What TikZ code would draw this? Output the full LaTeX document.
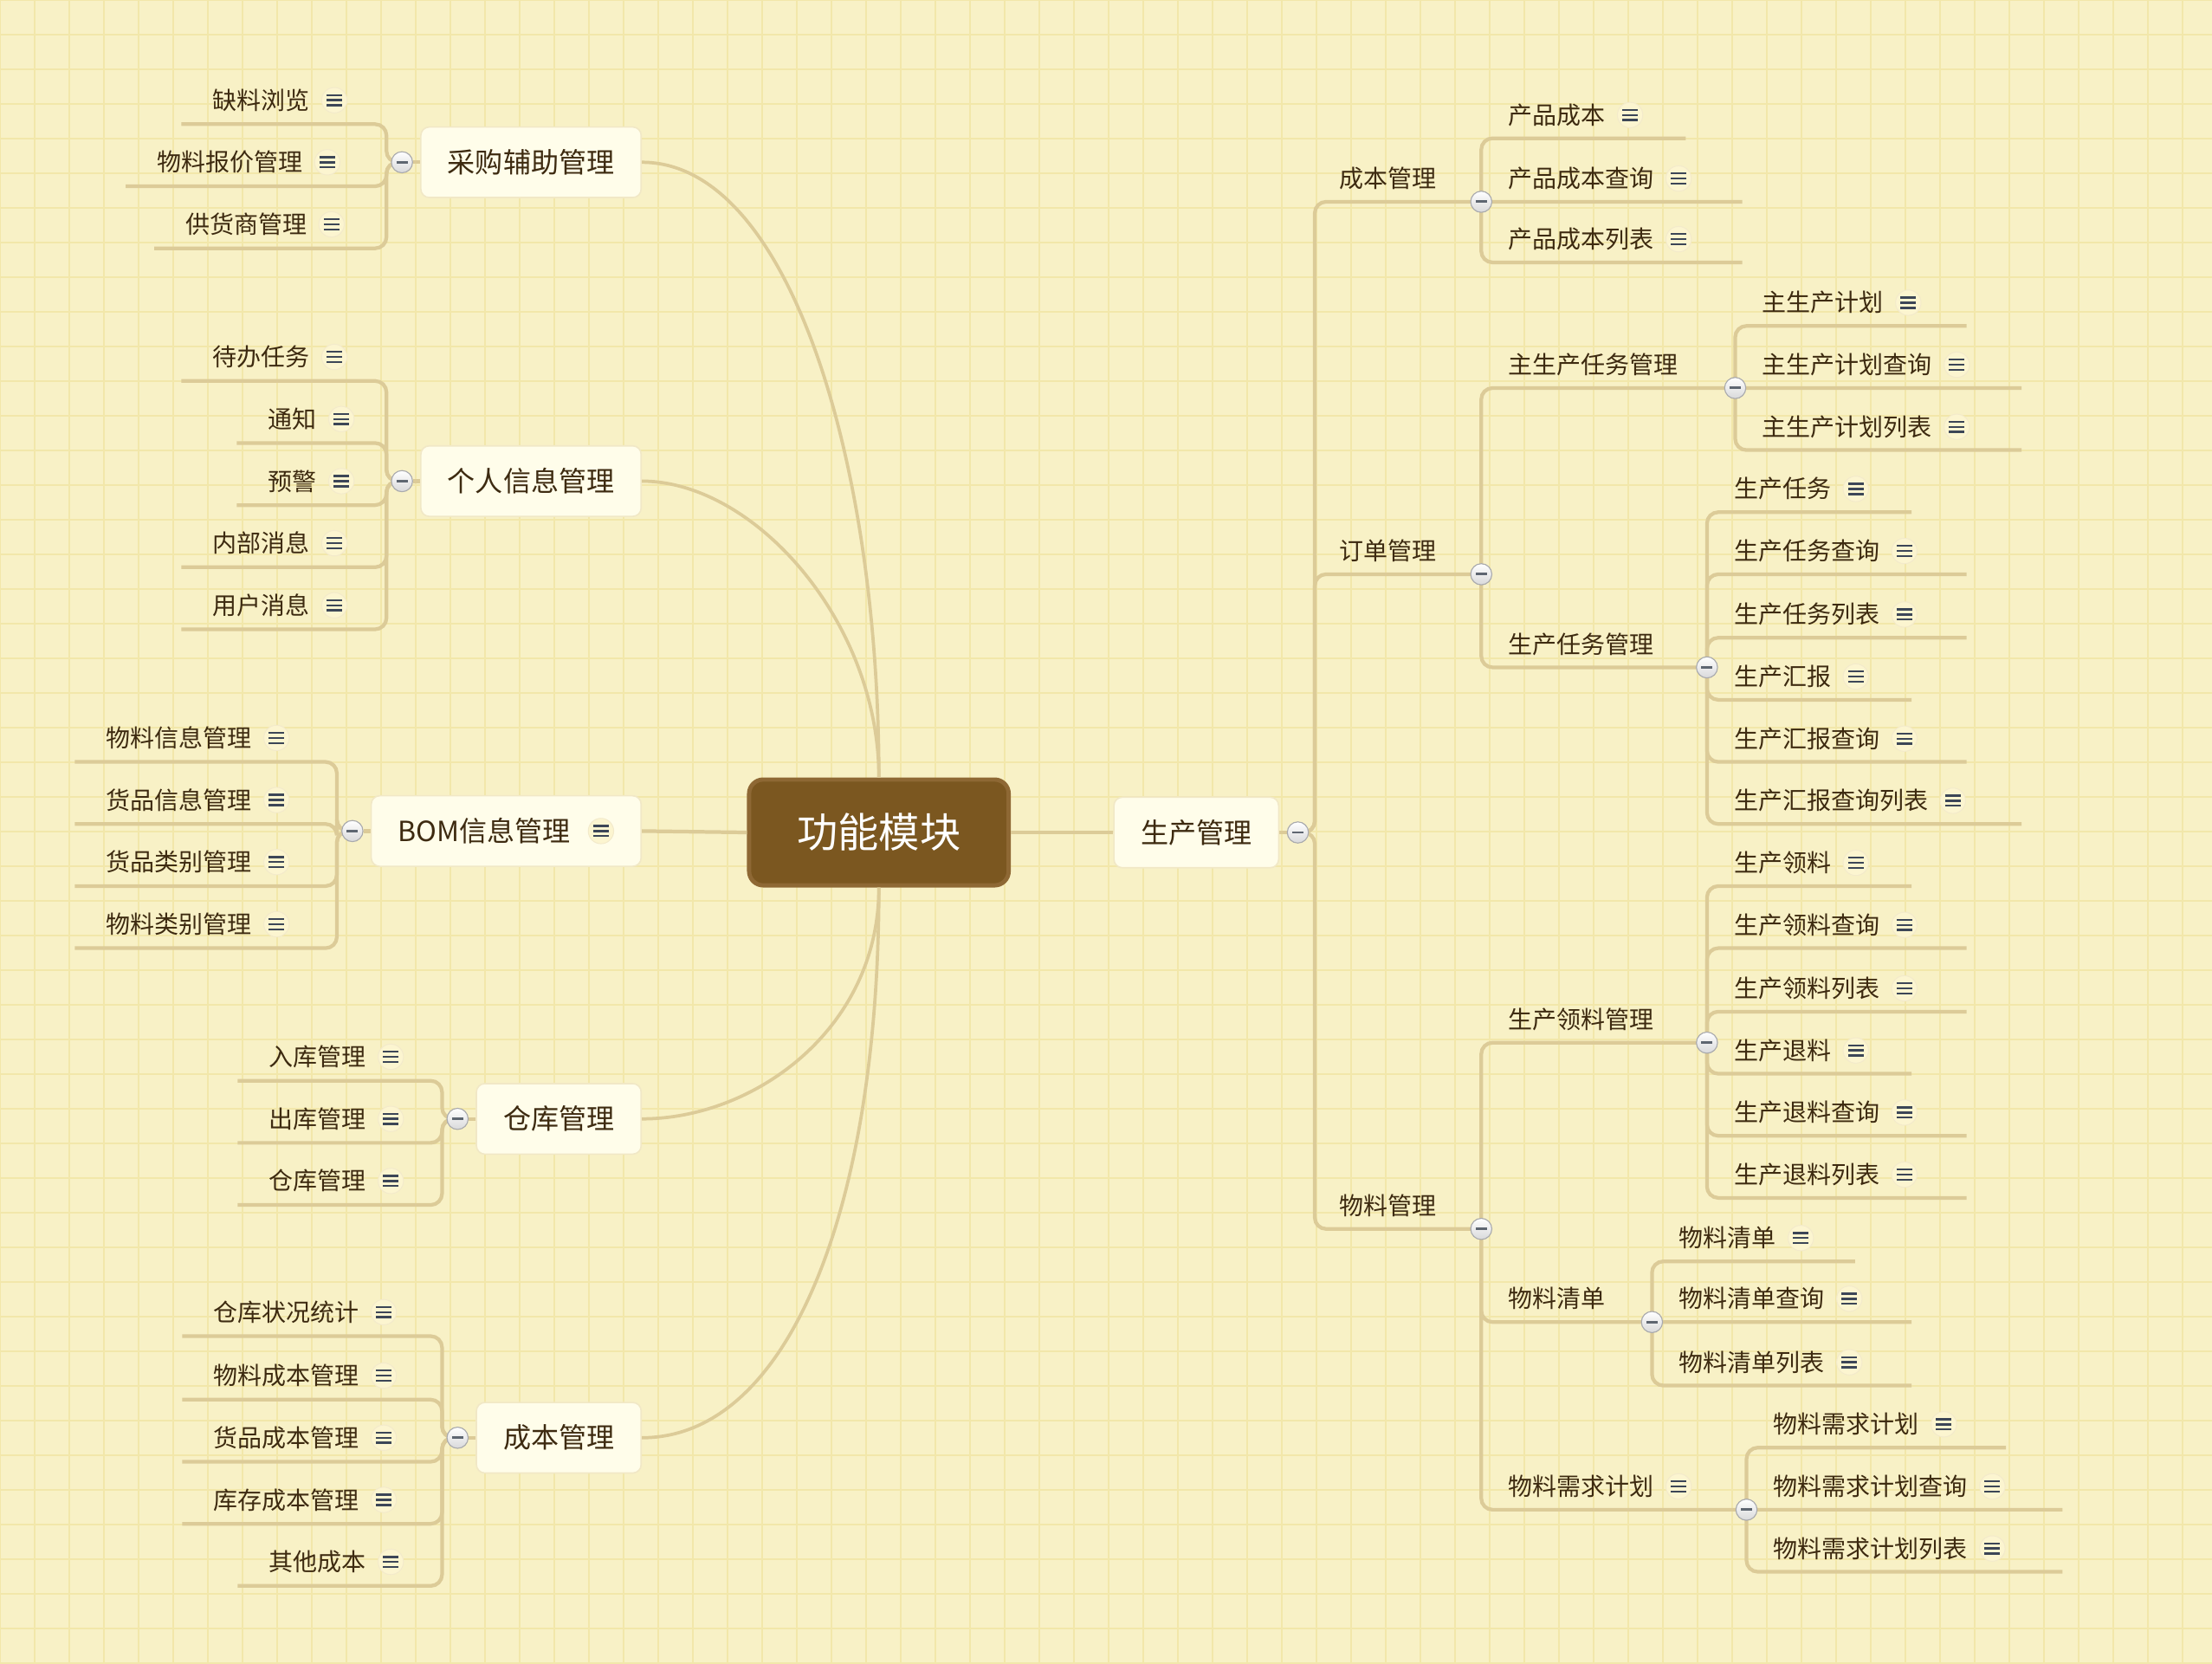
\documentclass[tikz,border=0pt]{standalone}
\usepackage{fontspec}
\setmainfont{Noto Sans CJK SC}
\usetikzlibrary{positioning,calc}

\definecolor{paper}{HTML}{F8F1C6}
\definecolor{gridline}{HTML}{F2E7AA}
\definecolor{linkcol}{HTML}{DCCB98}
\definecolor{ink}{HTML}{3D2A10}
\definecolor{rootfill}{HTML}{7B5720}
\definecolor{rootedge}{HTML}{8E6834}
\definecolor{topicfill}{HTML}{FFFDEA}
\definecolor{topicedge}{HTML}{F1E8C6}
\definecolor{notefill}{HTML}{FCF5D0}
\definecolor{noteedge}{HTML}{F3EACB}
\definecolor{notebar}{HTML}{3C4657}
\definecolor{foldedge}{HTML}{A9AAAD}
\definecolor{foldbar}{HTML}{5E6671}

\pgfdeclarelayer{bg}
\pgfdeclarelayer{links}
\pgfsetlayers{bg,links,main}

\begin{document}
\begin{tikzpicture}[
  x=1pt, y=-1pt,
  root/.style={draw=rootedge, line width=3, fill=rootfill, rounded corners=10,
    minimum width=184, minimum height=75, text=white,
    font=\fontsize{29}{34}\selectfont},
  topic/.style={draw=topicedge, line width=1, fill=topicfill, rounded corners=6,
    minimum height=50, inner xsep=19, text=ink,
    font=\fontsize{19.7}{23}\selectfont},
  leaf/.style={inner sep=0, text=ink, font=\fontsize{17.2}{20}\selectfont},
  note/.style={circle, draw=noteedge, line width=0.6, fill=notefill,
    minimum size=18, inner sep=0,
    path picture={
      \foreach \d in {-3.6,0,3.6}
        \draw[notebar, line width=1.5] ([xshift=-5.5pt, yshift=\d pt]path picture bounding box.center) -- ++(11,0);
    }},
  fold/.style={circle, draw=foldedge, line width=0.7, top color=white,
    bottom color=foldedge!45, minimum size=15, inner sep=0,
    path picture={
      \draw[foldbar, line width=1.8] ([xshift=-4pt]path picture bounding box.center) -- ++(8,0);
    }},
  link/.style={draw=linkcol, line width=2.6, rounded corners=8},
  curve/.style={draw=linkcol, line width=2.3}
]
\useasboundingbox (0,0) rectangle (1568,1179);

% paper
\begin{pgfonlayer}{bg}
  \fill[paper] (0,0) rectangle (1568,1179);
  \draw[gridline, line width=1.2, step=24.56pt] (0,1179) grid (1568,0);
\end{pgfonlayer}

% centre and first level
\node[root] (root) at (623,590) {功能模块};
\node[topic] (sc) at (848,590) {生产管理};
\node[fold] (f-sc) at (920,590) {};

\node[topic, anchor=east] (cg) at (455,115) {采购辅助管理};
\node[fold, left=5 of cg] (f-cg) {};
\node[topic, anchor=east] (gr) at (455,341) {个人信息管理};
\node[fold, left=5 of gr] (f-gr) {};
\node[topic, anchor=east] (bom) at (455,589) {BOM信息管理\kern31pt};
\node[note] (n-bom) at ($(bom.east)+(-29,0)$) {};
\node[fold, left=5 of bom] (f-bom) {};
\node[topic, anchor=east] (ck) at (455,793) {仓库管理};
\node[fold, left=5 of ck] (f-ck) {};
\node[topic, anchor=east] (cbl) at (455,1019) {成本管理};
\node[fold, left=5 of cbl] (f-cbl) {};

\draw[curve] (root.north) .. controls +(0,-222) and +(105,0) .. (cg.east);
\draw[curve] (root.north) .. controls +(0,-110) and +(80,0) .. (gr.east);
\draw[link] (root.west) -- (bom.east);
\draw[curve] (root.south) .. controls +(0,100) and +(80,0) .. (ck.east);
\draw[curve] (root.south) .. controls +(0,225) and +(105,0) .. (cbl.east);
\draw[link] (root.east) -- (sc.west);

% right side, second and third level
\node[leaf, anchor=base west] (cb) at (949,133) {成本管理};
\node[fold] (f-cb) at (1050,143) {};
\node[leaf, anchor=base west] (dd) at (949,397) {订单管理};
\node[fold] (f-dd) at (1050,407) {};
\node[leaf, anchor=base west] (wl) at (949,861) {物料管理};
\node[fold] (f-wl) at (1050,871) {};

\node[leaf, anchor=base west] (zs) at (1069,265) {主生产任务管理};
\node[fold] (f-zs) at (1230,275) {};
\node[leaf, anchor=base west] (rw) at (1069,463) {生产任务管理};
\node[fold] (f-rw) at (1210,473) {};
\node[leaf, anchor=base west] (ll) at (1069,729) {生产领料管理};
\node[fold] (f-ll) at (1210,739) {};
\node[leaf, anchor=base west] (qd) at (1069,927) {物料清单};
\node[fold] (f-qd) at (1171,937) {};
\node[leaf, anchor=base west] (xq) at (1069,1060) {物料需求计划};
\node[note, right=8 of xq] (n-xq) {};
\node[fold] (f-xq) at (1238,1070) {};

\begin{pgfonlayer}{links}
  \draw[link] (sc.east) -- (f-sc);
  \draw[link] (f-sc.center) -- ++(12,0) |- (f-cb.center);
  \draw[link] (f-sc.center) -- ++(12,0) |- (f-dd.center);
  \draw[link] (f-sc.center) -- ++(12,0) |- (f-wl.center);
  \draw[link] (f-dd.center) |- (f-zs.center);
  \draw[link] (f-dd.center) |- (f-rw.center);
  \draw[link] (f-wl.center) |- (f-ll.center);
  \draw[link] (f-wl.center) |- (f-qd.center);
  \draw[link] (f-wl.center) |- (f-xq.center);
  \draw[link] (cg.west) -- (f-cg);
  \draw[link] (gr.west) -- (f-gr);
  \draw[link] (bom.west) -- (f-bom);
  \draw[link] (ck.west) -- (f-ck);
  \draw[link] (cbl.west) -- (f-cbl);
\end{pgfonlayer}

% right leaves
\foreach \yy/\lbl/\xe [count=\i] in {98/产品成本/1195, 143/产品成本查询/1235, 186/产品成本列表/1235} {
  \node[leaf, anchor=base west] (cb-\i) at (1069,\yy-10) {\lbl};
  \node[note, right=8 of cb-\i] (cb-n\i) {};
  \coordinate (cb-e\i) at (\xe,\yy);
  \begin{pgfonlayer}{links}\draw[link] (f-cb.center) |- (cb-e\i);\end{pgfonlayer}
}
\foreach \yy/\lbl/\xe [count=\i] in {231/主生产计划/1394, 275/主生产计划查询/1433, 319/主生产计划列表/1433} {
  \node[leaf, anchor=base west] (zs-\i) at (1249,\yy-10) {\lbl};
  \node[note, right=8 of zs-\i] (zs-n\i) {};
  \coordinate (zs-e\i) at (\xe,\yy);
  \begin{pgfonlayer}{links}\draw[link] (f-zs.center) |- (zs-e\i);\end{pgfonlayer}
}
\foreach \yy/\lbl/\xe [count=\i] in {363/生产任务/1355, 407/生产任务查询/1394, 452/生产任务列表/1394,
    496/生产汇报/1355, 540/生产汇报查询/1394, 584/生产汇报查询列表/1433} {
  \node[leaf, anchor=base west] (rw-\i) at (1229,\yy-10) {\lbl};
  \node[note, right=8 of rw-\i] (rw-n\i) {};
  \coordinate (rw-e\i) at (\xe,\yy);
  \begin{pgfonlayer}{links}\draw[link] (f-rw.center) |- (rw-e\i);\end{pgfonlayer}
}
\foreach \yy/\lbl/\xe [count=\i] in {628/生产领料/1355, 672/生产领料查询/1394, 717/生产领料列表/1394,
    761/生产退料/1355, 805/生产退料查询/1394, 849/生产退料列表/1394} {
  \node[leaf, anchor=base west] (ll-\i) at (1229,\yy-10) {\lbl};
  \node[note, right=8 of ll-\i] (ll-n\i) {};
  \coordinate (ll-e\i) at (\xe,\yy);
  \begin{pgfonlayer}{links}\draw[link] (f-ll.center) |- (ll-e\i);\end{pgfonlayer}
}
\foreach \yy/\lbl/\xe [count=\i] in {894/物料清单/1315, 937/物料清单查询/1355, 982/物料清单列表/1355} {
  \node[leaf, anchor=base west] (qd-\i) at (1190,\yy-10) {\lbl};
  \node[note, right=8 of qd-\i] (qd-n\i) {};
  \coordinate (qd-e\i) at (\xe,\yy);
  \begin{pgfonlayer}{links}\draw[link] (f-qd.center) |- (qd-e\i);\end{pgfonlayer}
}
\foreach \yy/\lbl/\xe [count=\i] in {1026/物料需求计划/1422, 1070/物料需求计划查询/1462, 1114/物料需求计划列表/1462} {
  \node[leaf, anchor=base west] (xq-\i) at (1257,\yy-10) {\lbl};
  \node[note, right=8 of xq-\i] (xq-n\i) {};
  \coordinate (xq-e\i) at (\xe,\yy);
  \begin{pgfonlayer}{links}\draw[link] (f-xq.center) |- (xq-e\i);\end{pgfonlayer}
}

% left leaves
\foreach \yy/\lbl/\xi [count=\i] in {88/缺料浏览/237, 132/物料报价管理/232, 176/供货商管理/235} {
  \node[note] (cg-n\i) at (\xi,\yy-17) {};
  \node[leaf, left=8 of cg-n\i] (cg-\i) {\lbl};
  \path (cg-\i.west) ++(-22,17) coordinate (cg-e\i);
  \begin{pgfonlayer}{links}\draw[link] (f-cg.center) -- ++(-11,0) |- (cg-e\i);\end{pgfonlayer}
}
\foreach \yy/\lbl/\xi [count=\i] in {270/待办任务/237, 314/通知/242, 358/预警/242, 402/内部消息/237, 446/用户消息/237} {
  \node[note] (gr-n\i) at (\xi,\yy-17) {};
  \node[leaf, left=8 of gr-n\i] (gr-\i) {\lbl};
  \path (gr-\i.west) ++(-22,17) coordinate (gr-e\i);
  \begin{pgfonlayer}{links}\draw[link] (f-gr.center) -- ++(-11,0) |- (gr-e\i);\end{pgfonlayer}
}
\foreach \yy/\lbl/\xi [count=\i] in {540/物料信息管理/196, 584/货品信息管理/196, 628/货品类别管理/196, 672/物料类别管理/196} {
  \node[note] (bom-n\i) at (\xi,\yy-17) {};
  \node[leaf, left=8 of bom-n\i] (bom-\i) {\lbl};
  \path (bom-\i.west) ++(-22,17) coordinate (bom-e\i);
  \begin{pgfonlayer}{links}\draw[link] (f-bom.center) -- ++(-11,0) |- (bom-e\i);\end{pgfonlayer}
}
\foreach \yy/\lbl/\xi [count=\i] in {766/入库管理/277, 810/出库管理/277, 854/仓库管理/277} {
  \node[note] (ck-n\i) at (\xi,\yy-17) {};
  \node[leaf, left=8 of ck-n\i] (ck-\i) {\lbl};
  \path (ck-\i.west) ++(-22,17) coordinate (ck-e\i);
  \begin{pgfonlayer}{links}\draw[link] (f-ck.center) -- ++(-11,0) |- (ck-e\i);\end{pgfonlayer}
}
\foreach \yy/\lbl/\xi [count=\i] in {947/仓库状况统计/272, 992/物料成本管理/272, 1036/货品成本管理/272, 1080/库存成本管理/272, 1124/其他成本/277} {
  \node[note] (cbl-n\i) at (\xi,\yy-17) {};
  \node[leaf, left=8 of cbl-n\i] (cbl-\i) {\lbl};
  \path (cbl-\i.west) ++(-22,17) coordinate (cbl-e\i);
  \begin{pgfonlayer}{links}\draw[link] (f-cbl.center) -- ++(-11,0) |- (cbl-e\i);\end{pgfonlayer}
}
\end{tikzpicture}
\end{document}
